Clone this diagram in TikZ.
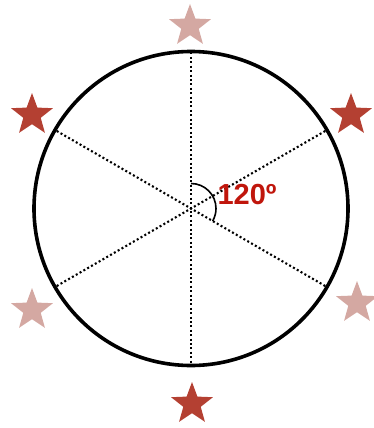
\documentclass[tikz,border=0pt]{standalone}
\usepackage{fontspec}
\setmainfont{Liberation Sans}
\usetikzlibrary{shapes.geometric,calc}
\definecolor{stardark}{RGB}{180,64,50}
\definecolor{starlight}{RGB}{212,168,162}
\definecolor{labelred}{RGB}{192,22,12}
\begin{document}
\begin{tikzpicture}[x=1pt,y=-1pt,
  starbox/.style={star,star points=5,star point ratio=2.4,inner sep=0pt,minimum size=44pt,draw=none},
  darkstar/.style={starbox,fill=stardark},
  lightstar/.style={starbox,fill=starlight},
  dotline/.style={line width=2.1pt,dash pattern=on 2pt off 2.4pt},
  rim/.style={line width=3.6pt}]
\useasboundingbox (0,0) rectangle (373,428);
\coordinate (c) at (191,208.5);
\draw[rim] (c) circle[radius=157];
\coordinate (top) at ($(c)+(0,-156)$);
\coordinate (bot) at ($(c)+(0,156)$);
\coordinate (ur) at ($(c)+(-30:155)$);
\coordinate (ll) at ($(c)+(150:155)$);
\coordinate (lr) at ($(c)+(30:155)$);
\coordinate (ul) at ($(c)+(210:155)$);
\draw[dotline] (top) -- (bot);
\draw[dotline] (ur) -- (ll);
\draw[dotline] (lr) -- (ul);
\draw[line width=1.6pt] ($(c)+(0,-25)$) arc[start angle=-90,end angle=30,radius=25];
\node[text=labelred,font=\bfseries\fontsize{29}{30}\selectfont,inner sep=0pt] (lab) at (247,194.5) {120º};
\node[lightstar] (s1) at (190,26) {};
\node[darkstar] (s2) at (32,115) {};
\node[darkstar] (s3) at (351,115) {};
\node[lightstar] (s4) at (32,310) {};
\node[lightstar] (s5) at (357,303) {};
\node[darkstar] (s6) at (192,404) {};
\end{tikzpicture}
\end{document}
